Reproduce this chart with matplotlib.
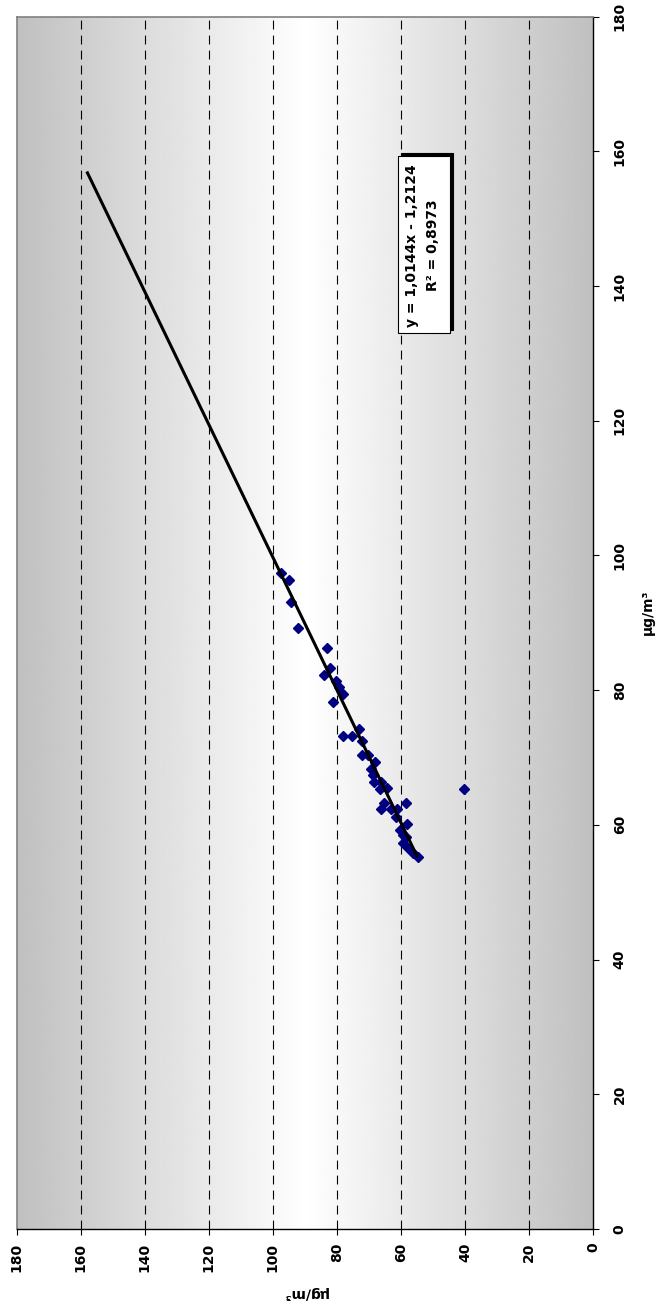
import matplotlib
matplotlib.use("Agg")
import matplotlib.pyplot as plt
import numpy as np
from matplotlib.patches import Rectangle

# ---------------- data (original chart: x = measured, y = reference) -------------
x_vals = [97.4, 96.3, 93.1, 89.2, 86.3, 83.3, 82.3, 81.4, 80.4, 79.4,
          78.2, 74.3, 73.2, 73.2, 72.4, 70.3, 70.3, 69.4, 68.3, 67.4,
          66.3, 66.4, 65.3, 65.4, 65.3, 63.3, 63.3, 62.3, 62.3, 62.3,
          61.2, 60.2, 59.3, 58.5, 58.2, 57.3, 56.5, 55.8, 55.2]
y_vals = [97.3, 95.0, 94.4, 92.1, 83.2, 82.2, 84.1, 80.1, 79.3, 78.1,
          81.2, 73.2, 78.2, 75.2, 72.1, 72.1, 70.3, 68.2, 69.4, 68.7,
          68.4, 66.1, 66.4, 64.2, 40.3, 58.3, 65.3, 66.1, 63.0, 61.1,
          61.4, 58.1, 60.4, 59.3, 58.5, 59.3, 57.8, 56.2, 54.7]

trend_slope = 1.0144
trend_intercept = -1.2124
trend_x = [55.2, 157.0]

tick_vals = [0, 20, 40, 60, 80, 100, 120, 140, 160, 180]
grid_vals = [20, 40, 60, 80, 100, 120, 140, 160]

eq_text = "y = 1,0144x - 1,2124"
r2_text = "R\u00b2 = 0,8973"
axis_title = "\u00b5g/m\u00b3"

# ---------------- style ----------------
plt.rcParams["font.family"] = ["DejaVu Sans"]
plt.rcParams["font.weight"] = "bold"

W, H = 656, 1314
fig = plt.figure(figsize=(W / 100, H / 100), dpi=100)
fx = lambda px: px / W
fy = lambda py: 1 - py / H

ax = fig.add_axes([fx(16.5), fy(1229), (593 - 16.5) / W, (1229 - 16.6) / H])

# gradient background (dark at edges, white in the middle)
t = np.linspace(0, 1, 256)
g = (255 - 63 * np.abs(2 * t - 1)) / 255
ax.imshow(g[None, :], cmap="gray", vmin=0, vmax=1, extent=(180, 0, 0, 180),
          aspect="auto", zorder=0, interpolation="bilinear")

for gv in grid_vals:
    ax.axvline(gv, color="black", lw=0.8, dashes=(8, 5.5), zorder=1)

# rotated chart: horizontal = original y (reversed), vertical = original x
ax.plot(y_vals, x_vals, linestyle="none", marker="D", ms=5.5,
        color="#000080", mec="#000080", zorder=3)

tx = np.array(trend_x)
ty = trend_slope * tx + trend_intercept
ax.plot(ty, tx, color="black", lw=2.2, zorder=4, solid_capstyle="butt")

ax.set_xlim(180, 0)
ax.set_ylim(0, 180)
ax.set_xticks(tick_vals)
ax.set_yticks(tick_vals)
ax.yaxis.tick_right()
ax.tick_params(axis="both", direction="out", length=4.3, width=0.8,
               color="black", labelsize=10)
ax.tick_params(axis="x", pad=5.5, labelrotation=90)
ax.tick_params(axis="y", pad=10, labelrotation=90)
for tk in ax.yaxis.get_major_ticks():
    tk.label2.set_va("center")

for s in ("top", "left"):
    ax.spines[s].set_color("#808080")
    ax.spines[s].set_linewidth(1.2)
for s in ("right", "bottom"):
    ax.spines[s].set_color("black")
    ax.spines[s].set_linewidth(1.0)

# axis titles
fig.text(fx(305), fy(1293), axis_title, rotation=180, ha="center", va="center",
         fontsize=10, fontweight="bold")
fig.text(fx(648), fy(612), axis_title, rotation=90, ha="center", va="center",
         fontsize=10, fontweight="bold")

# equation box with shadow
bw, bh = (450 - 398) / W, (333 - 156) / H
shadow = Rectangle((fx(401), fy(330)), bw, bh, facecolor="black",
                   edgecolor="black", lw=0.8, transform=fig.transFigure, zorder=5)
box = Rectangle((fx(398), fy(333)), bw, bh, facecolor="white",
                edgecolor="black", lw=0.8, transform=fig.transFigure, zorder=5.1)
fig.add_artist(shadow)
fig.add_artist(box)
fig.text(fx(412), fy(245.5), eq_text, rotation=90, ha="center", va="center",
         fontsize=10, fontweight="bold", zorder=6)
fig.text(fx(433), fy(245), r2_text, rotation=90, ha="center", va="center",
         fontsize=10, fontweight="bold", zorder=6)

fig.savefig("out.png", dpi=100)
